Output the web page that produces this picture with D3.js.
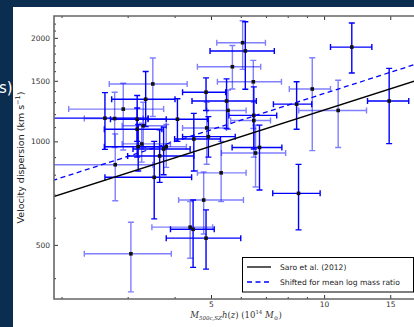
<!DOCTYPE html>
<html>
<head>
<meta charset="utf-8">
<script src="https://cdn.jsdelivr.net/npm/d3@7"></script>
<style>
  html, body { margin: 0; padding: 0; background: #0b2d4f; }
  svg { display: block; }
</style>
</head>
<body>
<svg id="chart" width="414" height="327"></svg>
<script>
// cluster mass M500c,SZ h(z) in 1e14 Msun, with lower / upper bounds
const mass   = [3.50, 3.35, 2.92, 2.61, 6.07, 6.17, 5.70, 6.48, 4.85, 5.50, 5.55, 6.50, 6.50, 8.45, 11.85, 9.30, 10.9, 14.9, 6.73, 6.57, 5.32, 8.55, 2.78, 3.53, 4.78, 4.40, 4.48, 4.85, 3.06, 3.20, 3.27, 3.74, 3.80, 3.65, 2.77, 3.18, 4.07, 3.18, 3.30, 4.50, 4.87, 4.92]
const massLo = [2.68, 2.72, 2.09, 1.80, 5.18, 4.97, 4.60, 5.20, 4.20, 4.45, 4.87, 5.58, 5.64, 7.33, 10.4, 8.08, 8.56, 13.05, 5.69, 5.33, 4.60, 7.30, 1.80, 2.61, 4.10, 3.48, 3.90, 3.80, 2.30, 2.60, 2.90, 3.10, 3.30, 3.00, 2.30, 2.70, 3.40, 2.60, 2.90, 4.00, 4.20, 4.20]
const massHi = [4.32, 4.01, 3.74, 3.40, 6.98, 7.37, 6.78, 7.70, 5.47, 6.60, 6.20, 7.48, 7.20, 9.27, 13.4, 10.4, 12.97, 16.8, 7.72, 7.90, 6.20, 9.76, 3.50, 4.44, 6.10, 5.05, 5.10, 6.00, 3.92, 3.80, 3.90, 4.40, 4.30, 4.50, 3.30, 3.80, 4.90, 3.70, 3.80, 5.30, 5.50, 5.80]
// velocity dispersion in km/s, with lower / upper bounds
const sigma   = [1469, 1326, 1241, 1168, 1936, 1832, 1648, 1490, 1390, 1310, 1230, 1190, 1150, 1283, 1880, 1420, 1230, 1310, 960, 925, 810, 706, 855, 786, 675, 563, 555, 523, 471, 965, 983, 950, 965, 907, 1165, 1160, 1160, 1085, 1110, 1016, 1094, 1032]
const sigmaLo = [1181, 1104, 944, 948, 1619, 1418, 1420, 1090, 1230, 1090, 1085, 950, 900, 1085, 1580, 940, 960, 985, 722, 737, 668, 553, 672, 595, 538, 457, 430, 425, 365, 820, 870, 800, 840, 760, 960, 1000, 1000, 900, 960, 820, 858, 900]
const sigmaHi = [1748, 1597, 1476, 1386, 2243, 2228, 1900, 1720, 1530, 1520, 1410, 1440, 1300, 1490, 2210, 1750, 1505, 1630, 1115, 1115, 1000, 857, 1050, 1000, 815, 668, 675, 632, 582, 1120, 1130, 1100, 1120, 1080, 1390, 1360, 1330, 1250, 1300, 1206, 1300, 1180]
// which sample the cluster belongs to (drawn darker / lighter blue)
const sample  = ["b", "a", "b", "a", "b", "a", "b", "b", "a", "a", "b", "a", "b", "a", "a", "b", "b", "a", "a", "b", "b", "a", "b", "a", "b", "b", "a", "a", "b", "a", "b", "a", "b", "a", "b", "a", "a", "a", "b", "a", "b", "a"]

// scaling relations (end points of the plotted lines)
const lineMass = [1.8, 18]
const saroSigma = [677, 1515]
const shiftedSigma = [756, 1692]

const xTicks = [5, 10, 15]
const xMinor = [2, 3, 4, 6, 7, 8, 9]
const yTicks = [500, 1000, 1500, 2000]
const yMinor = [400, 600, 700, 800, 900, 1100, 1200, 1300, 1400, 1600, 1700, 1800, 1900, 2100, 2200]

const legendLabels = ["Saro et al. (2012)", "Shifted for mean log mass ratio"]

const svg = d3.select("#chart")
const margin = { left: 54, top: 16, right: 420, bottom: 299 }

svg.append("rect")
    .attr("x", 13).attr("y", 7)
    .attr("width", 401).attr("height", 320)
    .attr("fill", "#fff")

svg.append("text")
    .attr("x", -1).attr("y", 93)
    .attr("fill", "#fff")
    .style("font", "15px 'DejaVu Sans'")
    .text("s)")

const x = d3.scaleLog().domain([1.91, 18]).range([margin.left, margin.right])
const y = d3.scaleLog().domain([348, 2315]).range([margin.bottom, margin.top])

svg.append("clipPath").attr("id", "clip")
  .append("rect")
    .attr("x", margin.left).attr("y", margin.top)
    .attr("width", margin.right - margin.left).attr("height", margin.bottom - margin.top)

const plot = svg.append("g").attr("clip-path", "url(#clip)")

const data = mass.map((m, i) => ({
  m, lo: massLo[i], hi: massHi[i],
  s: sigma[i], slo: sigmaLo[i], shi: sigmaHi[i],
  dark: sample[i] === "a"
}))

const colour = d => d.dark ? "#0000ff" : "rgba(0,0,255,0.5)"
const cap = 3

const bars = plot.append("g")
    .attr("fill", "none")
    .attr("stroke-width", 1.4)
  .selectAll("g")
  .data(data)
  .join("g")
    .attr("stroke", colour)

bars.append("path")
    .attr("d", d => `M${x(d.lo)},${y(d.s)}H${x(d.hi)}`
      + `M${x(d.lo)},${y(d.s) - cap}v${2 * cap}M${x(d.hi)},${y(d.s) - cap}v${2 * cap}`)

bars.append("path")
    .attr("d", d => `M${x(d.m)},${y(d.slo)}V${y(d.shi)}`
      + `M${x(d.m) - cap},${y(d.slo)}h${2 * cap}M${x(d.m) - cap},${y(d.shi)}h${2 * cap}`)

plot.append("g")
  .selectAll("rect")
  .data(data)
  .join("rect")
    .attr("x", d => x(d.m) - 1.8)
    .attr("y", d => y(d.s) - 1.8)
    .attr("width", 3.6).attr("height", 3.6)
    .attr("fill", "#111")

const line = d3.line().x(d => x(d[0])).y(d => y(d[1]))

plot.append("path")
    .attr("d", line(lineMass.map((m, i) => [m, saroSigma[i]])))
    .attr("fill", "none")
    .attr("stroke", "#000")
    .attr("stroke-width", 1.3)

plot.append("path")
    .attr("d", line(lineMass.map((m, i) => [m, shiftedSigma[i]])))
    .attr("fill", "none")
    .attr("stroke", "#0000ff")
    .attr("stroke-width", 1.3)
    .attr("stroke-dasharray", "5,3.5")

// axes: ticks inside on all four sides
svg.append("g")
    .attr("transform", `translate(0,${margin.bottom})`)
    .call(d3.axisBottom(x).tickValues(xTicks).tickSize(-4).tickPadding(3).tickFormat(d3.format("d")))
    .call(g => g.select(".domain").remove())
svg.append("g")
    .attr("transform", `translate(0,${margin.bottom})`)
    .call(d3.axisBottom(x).tickValues(xMinor).tickSize(-2).tickFormat(""))
    .call(g => g.select(".domain").remove())
svg.append("g")
    .attr("transform", `translate(0,${margin.top})`)
    .call(d3.axisTop(x).tickValues(xTicks).tickSize(-4).tickFormat(""))
    .call(g => g.select(".domain").remove())
svg.append("g")
    .attr("transform", `translate(0,${margin.top})`)
    .call(d3.axisTop(x).tickValues(xMinor).tickSize(-2).tickFormat(""))
    .call(g => g.select(".domain").remove())

svg.append("g")
    .attr("transform", `translate(${margin.left},0)`)
    .call(d3.axisLeft(y).tickValues(yTicks).tickSize(-4).tickPadding(4).tickFormat(d3.format("d")))
    .call(g => g.select(".domain").remove())
svg.append("g")
    .attr("transform", `translate(${margin.left},0)`)
    .call(d3.axisLeft(y).tickValues(yMinor).tickSize(-2).tickFormat(""))
    .call(g => g.select(".domain").remove())

svg.selectAll(".tick line").attr("stroke", "#333").attr("stroke-width", 1)
svg.selectAll(".tick text").attr("fill", "#333").style("font", "7.5px 'DejaVu Sans'")

svg.append("path")
    .attr("d", `M${margin.right},${margin.top}H${margin.left}V${margin.bottom}H${margin.right}`)
    .attr("fill", "none")
    .attr("stroke", "#666")
    .attr("stroke-width", 1.6)

// legend
const legend = svg.append("g")
legend.append("rect")
    .attr("x", 242.5).attr("y", 257.5)
    .attr("width", 171).attr("height", 34.5)
    .attr("fill", "#fff")
    .attr("stroke", "#000")
    .attr("stroke-width", 1)
legend.append("line")
    .attr("x1", 247).attr("x2", 271).attr("y1", 267).attr("y2", 267)
    .attr("stroke", "#000").attr("stroke-width", 1.3)
legend.append("line")
    .attr("x1", 247).attr("x2", 271).attr("y1", 282).attr("y2", 282)
    .attr("stroke", "#0000ff").attr("stroke-width", 1.3)
    .attr("stroke-dasharray", "5,3.5")
legend.selectAll("text")
  .data(legendLabels)
  .join("text")
    .attr("x", 280)
    .attr("y", (d, i) => 270 + i * 15)
    .attr("fill", "#222")
    .style("font", "7.6px 'DejaVu Sans'")
    .text(d => d)

svg.append("text")
    .attr("transform", `translate(24,${(margin.top + margin.bottom) / 2}) rotate(-90)`)
    .attr("text-anchor", "middle")
    .attr("fill", "#222")
    .style("font", "9.5px 'DejaVu Sans'")
    .html("Velocity dispersion (km s<tspan dy='-4' font-size='6.5'>−1</tspan><tspan dy='4'>)</tspan>")

const xlab = svg.append("text")
    .attr("x", 236).attr("y", 318)
    .attr("text-anchor", "middle")
    .attr("fill", "#333")
    .style("font", "8.5px 'DejaVu Serif'")
xlab.append("tspan").attr("font-style", "italic").text("M")
xlab.append("tspan").attr("font-size", 5.5).attr("dy", 2).attr("font-style", "italic").text("500c,SZ")
xlab.append("tspan").attr("dy", -2).attr("font-style", "italic").text("h")
xlab.append("tspan").text("(")
xlab.append("tspan").attr("font-style", "italic").text("z")
xlab.append("tspan").text(") (10")
xlab.append("tspan").attr("font-size", 5.5).attr("dy", -4).text("14")
xlab.append("tspan").attr("dy", 4).attr("font-style", "italic").text(" M")
xlab.append("tspan").attr("font-size", 5.5).attr("dy", 2).text("⊙")
xlab.append("tspan").attr("dy", -2).text(")")
</script>
</body>
</html>
